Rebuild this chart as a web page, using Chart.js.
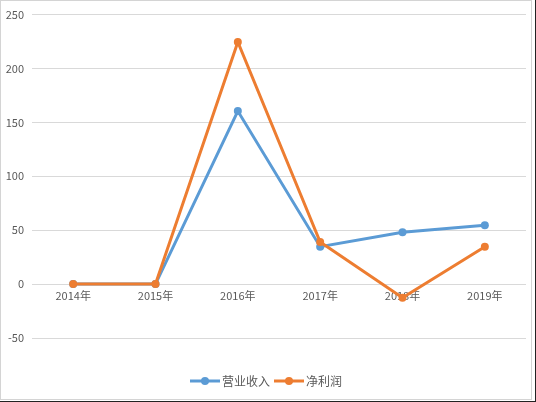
<!DOCTYPE html>
<html>
<head>
<meta charset="utf-8">
<script src="https://cdn.jsdelivr.net/npm/chart.js@4/dist/chart.umd.min.js"></script>
<style>
  body { margin: 0; background: #fff; }
  #wrap { position: relative; width: 536px; height: 402px; }
  #myChart { position: absolute; left: 0; top: 0; }
  #frame { position: absolute; left: 0; top: 0; width: 532px; height: 400px; border: 1px solid #d4d4d4; box-sizing: border-box; pointer-events: none; }
  #edge { position: absolute; left: 0; top: 0; width: 536px; height: 402px; border-right: 1px solid #222; border-bottom: 1px solid #222; box-sizing: border-box; pointer-events: none; }
</style>
</head>
<body>
<div id="wrap">
  <canvas id="myChart" width="536" height="402"></canvas>
  <div id="frame"></div>
  <div id="edge"></div>
</div>
<script>
var years = ["2014年", "2015年", "2016年", "2017年", "2018年", "2019年"];
var revenue = [0, 0, 160.5, 34.7, 48, 54.5];
var netProfit = [0, 0, 224.6, 39, -12.7, 34.7];
var seriesNames = ["营业收入", "净利润"];
var seriesColors = ["#5B9BD5", "#ED7D31"];

var font = "'Noto Sans CJK SC', 'Noto Sans', sans-serif";
var gap = 29;

// legend marker: short line with a dot, like Excel
function legendMark(color) {
    var c = document.createElement("canvas");
    c.width = 30;
    c.height = 10;
    var g = c.getContext("2d");
    g.strokeStyle = color;
    g.lineWidth = 3;
    g.beginPath();
    g.moveTo(0, 5);
    g.lineTo(30, 5);
    g.stroke();
    g.fillStyle = color;
    g.beginPath();
    g.arc(15, 5, 4, 0, Math.PI * 2);
    g.fill();
    return c;
}

// push the legend down a bit, leaving a gap under the plot
var legendGap = {
    id: "legendGap",
    afterInit: function (chart) {
        var lg = chart.legend;
        if (!lg || lg._gapped) return;
        lg._gapped = true;
        var fit = lg.fit;
        lg.fit = function () { fit.call(this); this.height += gap; };
        var draw = lg.draw;
        lg.draw = function () {
            this.ctx.save();
            this.ctx.translate(5, gap);
            draw.call(this);
            this.ctx.restore();
        };
    }
};

var ctx = document.getElementById("myChart").getContext("2d");
var myChart = new Chart(ctx, {
    type: "line",
    data: {
        labels: years,
        datasets: [{
            label: seriesNames[0],
            data: revenue,
            borderColor: seriesColors[0],
            backgroundColor: seriesColors[0],
            borderWidth: 3,
            pointRadius: 4,
            pointBorderWidth: 0,
            order: 1
        }, {
            label: seriesNames[1],
            data: netProfit,
            borderColor: seriesColors[1],
            backgroundColor: seriesColors[1],
            borderWidth: 3,
            pointRadius: 4,
            pointBorderWidth: 0,
            order: 0
        }]
    },
    options: {
        responsive: false,
        animation: false,
        layout: { padding: { left: 0, right: 10, top: 14, bottom: 5 } },
        scales: {
            x: {
                position: { y: 0 },
                offset: true,
                grid: { display: false, drawTicks: false },
                border: { display: false },
                ticks: { color: "#595959", font: { family: font, size: 11 }, padding: 5, maxRotation: 0 }
            },
            y: {
                min: -50,
                max: 250,
                grid: { color: "#d9d9d9", drawTicks: false },
                border: { display: false },
                ticks: { stepSize: 50, color: "#595959", font: { family: font, size: 11 }, padding: 8 },
                afterFit: function (scale) { scale.width = 32; }
            }
        },
        plugins: {
            tooltip: { enabled: false },
            legend: {
                position: "bottom",
                labels: {
                    usePointStyle: true,
                    pointStyleWidth: 22,
                    color: "#595959",
                    font: { family: font, size: 12 },
                    padding: 8,
                    sort: function (a, b) { return a.datasetIndex - b.datasetIndex; },
                    generateLabels: function (chart) {
                        var items = Chart.defaults.plugins.legend.labels.generateLabels(chart);
                        items.forEach(function (it) {
                            it.pointStyle = legendMark(seriesColors[it.datasetIndex]);
                        });
                        return items;
                    }
                }
            }
        }
    },
    plugins: [legendGap]
});
</script>
</body>
</html>
